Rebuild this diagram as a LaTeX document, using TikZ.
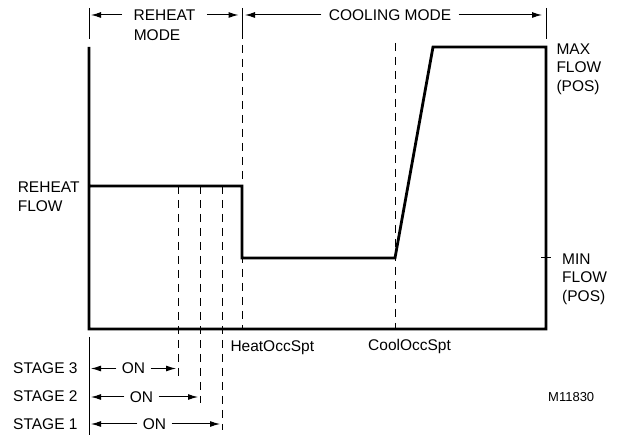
\documentclass[tikz,border=0pt]{standalone}
\usepackage{fontspec}
\setmainfont{Liberation Sans}
\usetikzlibrary{positioning,arrows.meta}
\tikzstyle{lbl}=[inner sep=0pt, align=left, font=\fontsize{15.5}{18.5}\selectfont]
\tikzstyle{gap}=[inner ysep=0pt, inner xsep=11pt, font=\fontsize{15.5}{18.5}\selectfont]
\tikzstyle{curve}=[line width=2.8pt, line join=miter]
\tikzstyle{guide}=[dash pattern=on 8pt off 6pt]
\tikzstyle{span}=[-{Latex[length=10pt,width=6pt]}]

\begin{document}
\begin{tikzpicture}[x=1pt, y=-1pt, line width=1pt]
	\useasboundingbox (0,0) rectangle (619,435);

	% header
	\node[gap] (reheat) at (164.5,15) {REHEAT};
	\node[lbl, anchor=base west] (mode) at (133.3,40.7) {MODE};
	\node[gap, inner xsep=7pt] (cooling) at (390,15) {COOLING MODE};
	\coordinate (hL) at (91,15);
	\coordinate (hM1) at (238.5,15);
	\coordinate (hM2) at (245,15);
	\coordinate (hR) at (542,15);
	\draw (89,8) -- (89,39);
	\draw (242,8) -- (242,39);
	\draw (546,8) -- (546,39);
	\draw[span] (reheat) -- (hL);
	\draw[span] (reheat) -- (hM1);
	\draw[span] (cooling) -- (hM2);
	\draw[span] (cooling) -- (hR);

	% set points
	\coordinate (heat) at (242,329);
	\coordinate (cool) at (395,329);
	\draw[guide] (242,45) -- (heat);
	\draw[guide] (395,43) -- (cool);

	% stages
	\coordinate (s3) at (178,186);
	\coordinate (s2) at (200,186);
	\coordinate (s1) at (222,186);
	\draw[guide] (s3) -- (178,378);
	\draw[guide] (s2) -- (200,403);
	\draw[guide] (s1) -- (222,430);

	% flow curve
	\draw[curve] (89,47) -- (89,329) -- (546,329) -- (546,47) -- (433,47)
		-- (395,258) -- (242,258) -- (242,186) -- (89,186);
	\draw (541,258) -- (551,258);

	% labels
	\node[lbl, anchor=north west] (maxflow) at (556,43.3) {MAX\\FLOW\\(POS)};
	\node[lbl, anchor=north west] (minflow) at (561.7,253.3) {MIN\\FLOW\\(POS)};
	\node[lbl, anchor=north west] (rhflow) at (17.3,181.7) {REHEAT\\FLOW};
	\node[lbl, anchor=base west] (heatspt) at (230,351.7) {HeatOccSpt};
	\node[lbl, anchor=base west] (coolspt) at (367.7,350.7) {CoolOccSpt};
	\node[lbl, anchor=base west, font=\fontsize{13}{15}\selectfont] (fig) at (547.7,401.7) {M11830};

	% stage rows
	\draw (89,337) -- (89,435);
	\node[lbl, anchor=base west] (stage3) at (12.7,373.3) {STAGE 3};
	\node[lbl, anchor=base west] (stage2) at (12.7,401.7) {STAGE 2};
	\node[lbl, anchor=base west] (stage1) at (12.7,430) {STAGE 1};
	\node[gap, inner xsep=5pt] (on3) at (133.5,368.5) {ON};
	\node[gap, inner xsep=5pt] (on2) at (141.5,397) {ON};
	\node[gap, inner xsep=5pt] (on1) at (154.5,424) {ON};
	\draw[span] (on3) -- (91,368.5);
	\draw[span] (on3) -- (176,368.5);
	\draw[span] (on2) -- (91,397);
	\draw[span] (on2) -- (198,397);
	\draw[span] (on1) -- (91,424);
	\draw[span] (on1) -- (220,424);
\end{tikzpicture}
\end{document}
